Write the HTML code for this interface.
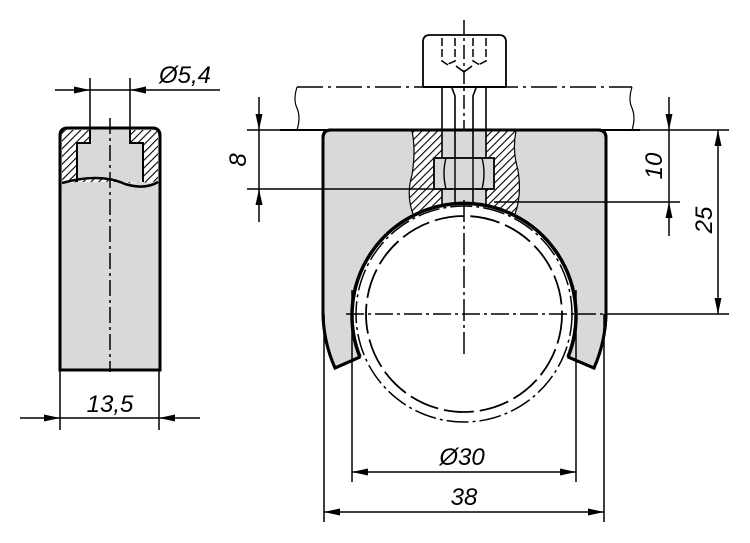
<!DOCTYPE html>
<html><head><meta charset="utf-8"><style>html,body{margin:0;padding:0;background:#fff}svg{display:block}</style></head><body>
<svg width="750" height="543" viewBox="0 0 750 543" xmlns="http://www.w3.org/2000/svg">
<defs>
<pattern id="h" patternUnits="userSpaceOnUse" width="5.5" height="5.5" patternTransform="rotate(45)">
<rect width="5.5" height="5.5" fill="#fff"/><line x1="0" y1="0" x2="0" y2="5.5" stroke="#000" stroke-width="2.2"/></pattern>
<marker id="a" viewBox="0 0 16 7" refX="16" refY="3.5" markerWidth="16" markerHeight="7" markerUnits="userSpaceOnUse" orient="auto"><path d="M0,0 L16,3.5 L0,7z" fill="#000"/></marker>
</defs>
<g font-family="Liberation Sans, sans-serif" font-style="italic" font-size="24" fill="#000">
<!-- LEFT PART -->
<path d="M60,370 V136 Q60,128 68,128 H152 Q160,128 160,136 V370 Z" fill="#d9d9d9" stroke="#000" stroke-width="3"/>
<path d="M62,130 H90 V143 H77 V182 Q96,176 110,180 Q130,186 143,180 V143 H130 V130 H158 V180 Q150,184 143,182 L143,182 H77 Q68,184 62,180 Z" fill="url(#h)" stroke="none"/>
<path d="M90,130 V143 H77 V182 M130,130 V143 H143 V182" fill="none" stroke="#000" stroke-width="2"/>
<path d="M62,183 Q80,178 95,178 Q112,178 125,184 Q145,190 158,182" fill="none" stroke="#000" stroke-width="2.5"/>
<path d="M60,370 V136 Q60,128 68,128 H152 Q160,128 160,136 V370 Z" fill="none" stroke="#000" stroke-width="3"/>
<line x1="110" y1="118" x2="110" y2="372" stroke="#000" stroke-width="1.5" stroke-dasharray="16,4,3,4"/>
<line x1="90" y1="78" x2="90" y2="130" stroke="#000" stroke-width="1.5"/>
<line x1="130" y1="78" x2="130" y2="130" stroke="#000" stroke-width="1.5"/>
<line x1="55" y1="90" x2="90" y2="90" stroke="#000" stroke-width="1.5" marker-end="url(#a)"/>
<line x1="220" y1="90" x2="130" y2="90" stroke="#000" stroke-width="1.5" marker-end="url(#a)"/>
<line x1="90" y1="90" x2="130" y2="90" stroke="#000" stroke-width="1.5"/>
<text x="159" y="83">Ø5,4</text>
<line x1="60" y1="370" x2="60" y2="430" stroke="#000" stroke-width="1.5"/>
<line x1="159" y1="370" x2="159" y2="430" stroke="#000" stroke-width="1.5"/>
<line x1="20" y1="418" x2="60" y2="418" stroke="#000" stroke-width="1.5" marker-end="url(#a)"/>
<line x1="200" y1="418" x2="159" y2="418" stroke="#000" stroke-width="1.5" marker-end="url(#a)"/>
<line x1="60" y1="418" x2="159" y2="418" stroke="#000" stroke-width="1.5"/>
<text x="110" y="412" text-anchor="middle">13,5</text>

<!-- PLATE -->
<line x1="280" y1="130" x2="640" y2="130" stroke="#000" stroke-width="2"/>
<line x1="297" y1="87" x2="632" y2="87" stroke="#000" stroke-width="1.5" stroke-dasharray="26,5,3,5"/>
<line x1="423" y1="87" x2="506" y2="87" stroke="#000" stroke-width="2"/>
<path d="M297,87 Q293,100 297,108 Q301,118 297,130" fill="none" stroke="#000" stroke-width="1.2"/>
<path d="M632,87 Q628,100 632,108 Q636,118 632,130" fill="none" stroke="#000" stroke-width="1.2"/>
<!-- screw head -->
<path d="M423,87 V42 Q423,35 430,35 H499 Q506,35 506,42 V87" fill="none" stroke="#000" stroke-width="1.8"/>
<path d="M442,38 V61 L448,65 M455,38 V61 L446,65 M473,38 V61 L480,65 M486,38 V61 L478,65" fill="none" stroke="#000" stroke-width="1.5" stroke-dasharray="8,3"/>
<path d="M456,66 L464,72 L472,66" fill="none" stroke="#000" stroke-width="1.5"/>
<line x1="464" y1="20" x2="464" y2="130" stroke="#000" stroke-width="1.5" stroke-dasharray="14,4,3,4"/>
<path d="M442,88 V130 M486,88 V130 M452,88 L455,96 V130 M476,88 L473,96 V130" fill="none" stroke="#000" stroke-width="1.6"/>

<!-- BODY -->
<path d="M323,314 V138 Q323,130 331,130 H598 Q606,130 606,138 V314 A142,142 0 0 1 594,368 L568,357 A112,112 0 1 0 360,357 L335,368 A142,142 0 0 1 323,314 Z" fill="#d9d9d9" stroke="#000" stroke-width="3"/>
<path d="M412,131 H442 V200 H486 V131 H516 Q512,150 518,170 Q522,195 515,214 L413,214 Q406,195 412,175 Q416,150 412,131 Z" fill="url(#h)"/>
<path d="M412,131 Q416,150 412,175 Q406,195 413,214 M516,131 Q512,150 518,170 Q522,195 515,214" fill="none" stroke="#000" stroke-width="1.2"/>
<rect x="442" y="131" width="44" height="78" fill="#d9d9d9"/>
<path d="M442,131 V209 M486,131 V209 M455,131 V209 M473,131 V209" stroke="#000" stroke-width="1.6"/>
<rect x="434" y="158" width="60" height="31" fill="#d9d9d9" stroke="#000" stroke-width="1.8"/>
<path d="M446,158 Q442,173 446,189 M482,158 Q486,173 482,189 M455,158 V189 M473,158 V189" fill="none" stroke="#000" stroke-width="1.4"/>
<!-- ring -->
<circle cx="464" cy="314" r="112" fill="#fff" stroke="none"/>
<path d="M360,357 A112,112 0 1 1 568,357" fill="none" stroke="#000" stroke-width="3.5"/>
<circle cx="464" cy="314" r="108" fill="none" stroke="#000" stroke-width="1.5" stroke-dasharray="22,4,3,4"/>
<circle cx="464" cy="314" r="98" fill="none" stroke="#000" stroke-width="1.8" stroke-dasharray="30,6"/>
<line x1="346" y1="314" x2="606" y2="314" stroke="#000" stroke-width="1.5" stroke-dasharray="18,4,3,4"/>
<line x1="464" y1="200" x2="464" y2="358" stroke="#000" stroke-width="1.5" stroke-dasharray="22,4,3,4"/>
<path d="M323,314 V138 Q323,130 331,130 H598 Q606,130 606,138 V314 A142,142 0 0 1 594,368 L568,357 M360,357 L335,368 A142,142 0 0 1 323,314" fill="none" stroke="#000" stroke-width="3"/>

<!-- dims left 8 -->
<line x1="247" y1="130" x2="323" y2="130" stroke="#000" stroke-width="1.5"/>
<line x1="247" y1="189" x2="434" y2="189" stroke="#000" stroke-width="1.5"/>
<line x1="259" y1="97" x2="259" y2="130" stroke="#000" stroke-width="1.5" marker-end="url(#a)"/>
<line x1="259" y1="222" x2="259" y2="189" stroke="#000" stroke-width="1.5" marker-end="url(#a)"/>
<line x1="259" y1="130" x2="259" y2="189" stroke="#000" stroke-width="1.5"/>
<text transform="translate(246,160) rotate(-90)" text-anchor="middle">8</text>
<!-- right dims -->
<line x1="606" y1="130" x2="729" y2="130" stroke="#000" stroke-width="1.5"/>
<line x1="494" y1="202" x2="680" y2="202" stroke="#000" stroke-width="1.5"/>
<line x1="606" y1="314" x2="729" y2="314" stroke="#000" stroke-width="1.5"/>
<line x1="669" y1="97" x2="669" y2="130" stroke="#000" stroke-width="1.5" marker-end="url(#a)"/>
<line x1="669" y1="236" x2="669" y2="202" stroke="#000" stroke-width="1.5" marker-end="url(#a)"/>
<line x1="669" y1="130" x2="669" y2="202" stroke="#000" stroke-width="1.5"/>
<text transform="translate(662,166) rotate(-90)" text-anchor="middle">10</text>
<line x1="718" y1="172" x2="718" y2="130" stroke="#000" stroke-width="1.5" marker-end="url(#a)"/>
<line x1="718" y1="172" x2="718" y2="314" stroke="#000" stroke-width="1.5" marker-end="url(#a)"/>
<text transform="translate(712,220) rotate(-90)" text-anchor="middle">25</text>
<!-- bottom dims -->
<line x1="352" y1="290" x2="352" y2="482" stroke="#000" stroke-width="1.5"/>
<line x1="576" y1="290" x2="576" y2="482" stroke="#000" stroke-width="1.5"/>
<line x1="324" y1="314" x2="324" y2="522" stroke="#000" stroke-width="1.5"/>
<line x1="604" y1="314" x2="604" y2="522" stroke="#000" stroke-width="1.5"/>
<line x1="464" y1="472" x2="352" y2="472" stroke="#000" stroke-width="1.5" marker-end="url(#a)"/>
<line x1="464" y1="472" x2="576" y2="472" stroke="#000" stroke-width="1.5" marker-end="url(#a)"/>
<text x="462" y="465" text-anchor="middle">Ø30</text>
<line x1="464" y1="512" x2="324" y2="512" stroke="#000" stroke-width="1.5" marker-end="url(#a)"/>
<line x1="464" y1="512" x2="604" y2="512" stroke="#000" stroke-width="1.5" marker-end="url(#a)"/>
<text x="464" y="505" text-anchor="middle">38</text>
</g>
</svg>
</body></html>
